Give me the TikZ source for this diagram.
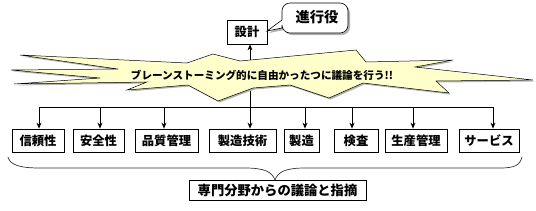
\documentclass[tikz,border=0pt]{standalone}
\usepackage{fontspec}
\setmainfont{Noto Sans CJK JP}
\usetikzlibrary{arrows.meta}
\definecolor{burstfill}{RGB}{255,255,204}
\begin{document}
\begin{tikzpicture}[x=1pt,y=-1pt,
  box/.style={draw, line width=0.8pt, inner sep=0pt, minimum height=23pt, font=\bfseries\fontsize{12.3}{13}\selectfont},
  arr/.style={-{Stealth[length=6pt,width=5pt]}, line width=0.8pt},
  burstline/.style={draw=black, line width=0.5pt, fill=burstfill},
  shadowfill/.style={fill=gray!60, draw=none},
  bracestyle/.style={draw=black!80, line width=0.7pt},
]
\useasboundingbox (0,0) rectangle (536,210);

% bus and connectors (behind burst)
\coordinate (t1) at (39,107);
\coordinate (t2) at (100,107);
\coordinate (t3) at (164,107);
\coordinate (t4) at (250,107);
\coordinate (t5) at (305,107);
\coordinate (t6) at (352,107);
\coordinate (t7) at (413,107);
\coordinate (t8) at (493,107);

\node[box, minimum width=40pt, minimum height=24pt, font=\bfseries\fontsize{12.3}{13}\selectfont] (design) at (247,32) {設計};

\node[box, minimum width=52pt] (b1) at (38,140.5) {信頼性};
\node[box, minimum width=51pt] (b2) at (98.5,140.5) {安全性};
\node[box, minimum width=63pt] (b3) at (166.5,140.5) {品質管理};
\node[box, minimum width=67pt] (b4) at (242.5,140.5) {製造技術};
\node[box, minimum width=35pt] (b5) at (301.5,140.5) {製造};
\node[box, minimum width=44pt] (b6) at (356,140.5) {検査};
\node[box, minimum width=62pt] (b7) at (416,140.5) {生産管理};
\node[box, minimum width=60pt] (b8) at (489,140.5) {サービス};

\draw[line width=0.8pt] (t1) -- (t8);
\foreach \i in {1,...,8} {
  \draw[arr] (t\i) -- (t\i |- b\i.north);
}
\draw[arr] (t4) -- (t4 |- design.south);

% burst
\def\burstpath{(20,55) -- (187,63) -- (213,54) -- (240,61) -- (356,50) -- (366,62) -- (453,60) -- (415,67) -- (533,80) -- (436,81) -- (449,93) -- (363,83) -- (329,98) -- (290,85) -- (253,88) -- (218,101) -- (188,85) -- (127,90) -- (147,82) -- (14,84) -- (100,78) -- (11,70) -- (118,69) -- cycle}
\begin{scope}[shift={(1.5,1.5)}]
  \path[shadowfill] \burstpath;
\end{scope}
\path[burstline] \burstpath;
\node[font=\bfseries\fontsize{10.6}{11}\selectfont] (brain) at (262,75) {ブレーンストーミング的に自由かったつに議論を行う!!};

% callout
\def\calloutpath{(300,3) [rounded corners=8pt] -- (348,3) -- (348,33) -- (282,33) [sharp corners] -- (282,28) -- (267,31) -- (282,20) [rounded corners=8pt] -- (282,3) -- cycle}
\begin{scope}[shift={(2,2)}]
  \path[shadowfill] \calloutpath;
\end{scope}
\path[draw=black, line width=0.6pt, fill=white] \calloutpath;
\node[font=\bfseries\fontsize{14.3}{15}\selectfont] (role) at (317,17) {進行役};

% brace
\draw[bracestyle] (8,157) .. controls (10,165) and (20,168) .. (40,168) -- (245,168) .. controls (265,168) and (272,172) .. (275,180) .. controls (278,172) and (285,168) .. (305,168) -- (500,168) .. controls (515,168) and (520,165) .. (522,157);

\node[box, minimum width=177pt, minimum height=20pt, font=\bfseries\fontsize{13.3}{14}\selectfont] (summary) at (277.5,190) {専門分野からの議論と指摘};
\end{tikzpicture}
\end{document}
